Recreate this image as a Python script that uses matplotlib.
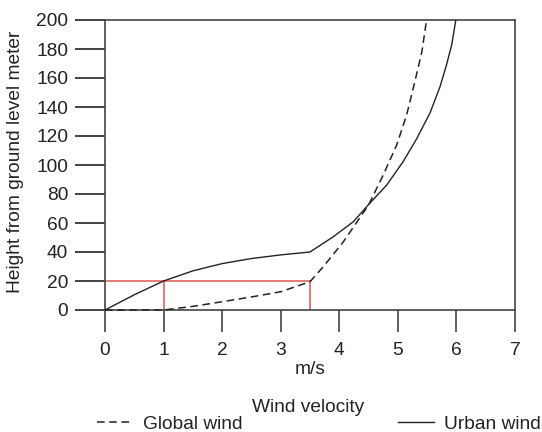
import matplotlib
matplotlib.use('Agg')
import matplotlib.pyplot as plt

plt.rcParams['font.family'] = ['Liberation Sans', 'DejaVu Sans']

# values
urban_x = [0, 0.5, 1.0, 1.5, 2.0, 2.5, 3.0, 3.5, 3.9, 4.24, 4.52, 4.81, 5.09,
           5.32, 5.55, 5.72, 5.83, 5.92, 5.99]
urban_y = [0, 10.5, 20, 27, 32, 35.5, 38, 40, 50.6, 60.9, 73.6, 86.2, 102.3,
           118, 136, 154, 169, 183, 200]
global_x = [0, 0.5, 1.0, 1.5, 2.0, 2.5, 3.0, 3.5, 3.73, 4.07, 4.5, 4.75, 4.98,
            5.15, 5.29, 5.41, 5.49]
global_y = [0, 0, 0, 2.5, 5.7, 9, 12.6, 19.5, 30, 47.1, 72.4, 93.1, 113.8,
            134.5, 157.5, 178.1, 200]
mark_x = [1.0, 3.5]
mark_y = 20
x_ticks = [0, 1, 2, 3, 4, 5, 6, 7]
y_ticks = [0, 20, 40, 60, 80, 100, 120, 140, 160, 180, 200]

fs = 13.8
fig = plt.figure(figsize=(5.42, 4.32), dpi=100)
ax = fig.add_axes([105 / 542, 1 - 310 / 432, 410 / 542, 290 / 432])

ax.plot([0, mark_x[1]], [mark_y, mark_y], color='#e06464', lw=1.2, zorder=2)
for mx in mark_x:
    ax.plot([mx, mx], [0, mark_y], color='#e06464', lw=1.2, zorder=2)

l1, = ax.plot(global_x, global_y, color='#222222', lw=1.1, dashes=(5, 3),
              label='Global wind', zorder=3, clip_on=False)
l2, = ax.plot(urban_x, urban_y, color='#222222', lw=1.0,
              label='Urban wind', zorder=3)

ax.set_xlim(0, 7)
ax.set_ylim(0, 200)
ax.set_xticks(x_ticks)
ax.set_yticks(y_ticks)
for s in ax.spines.values():
    s.set_color('#444444')
    s.set_linewidth(1.2)
ax.tick_params(axis='y', length=21.6, width=1.2, color='#222222', pad=5, labelsize=fs)
ax.tick_params(axis='x', length=16, width=1.2, color='#444444', pad=7, labelsize=fs)
for lab in ax.get_xticklabels() + ax.get_yticklabels():
    lab.set_color('#222222')

ax.set_ylabel('Height from ground level meter', fontsize=fs, color='#222222')
ax.yaxis.set_label_coords(-0.197, 0.51)
ax.set_xlabel('m/s', fontsize=fs, color='#222222')
ax.xaxis.set_label_coords(0.5, -0.175)

leg = fig.legend(handles=[l1, l2], ncol=2, frameon=False,
                 loc='center left', bbox_to_anchor=(97 / 542, 1 - 424 / 432),
                 fontsize=fs, handlelength=1.875, handletextpad=0.52,
                 columnspacing=8.1, borderpad=0, borderaxespad=0)
for t in leg.get_texts():
    t.set_color('#222222')
fig.text(308 / 542, 1 - 408 / 432, 'Wind velocity', fontsize=fs,
         color='#222222', ha='center', va='center')

fig.savefig('out.png', dpi=100)
